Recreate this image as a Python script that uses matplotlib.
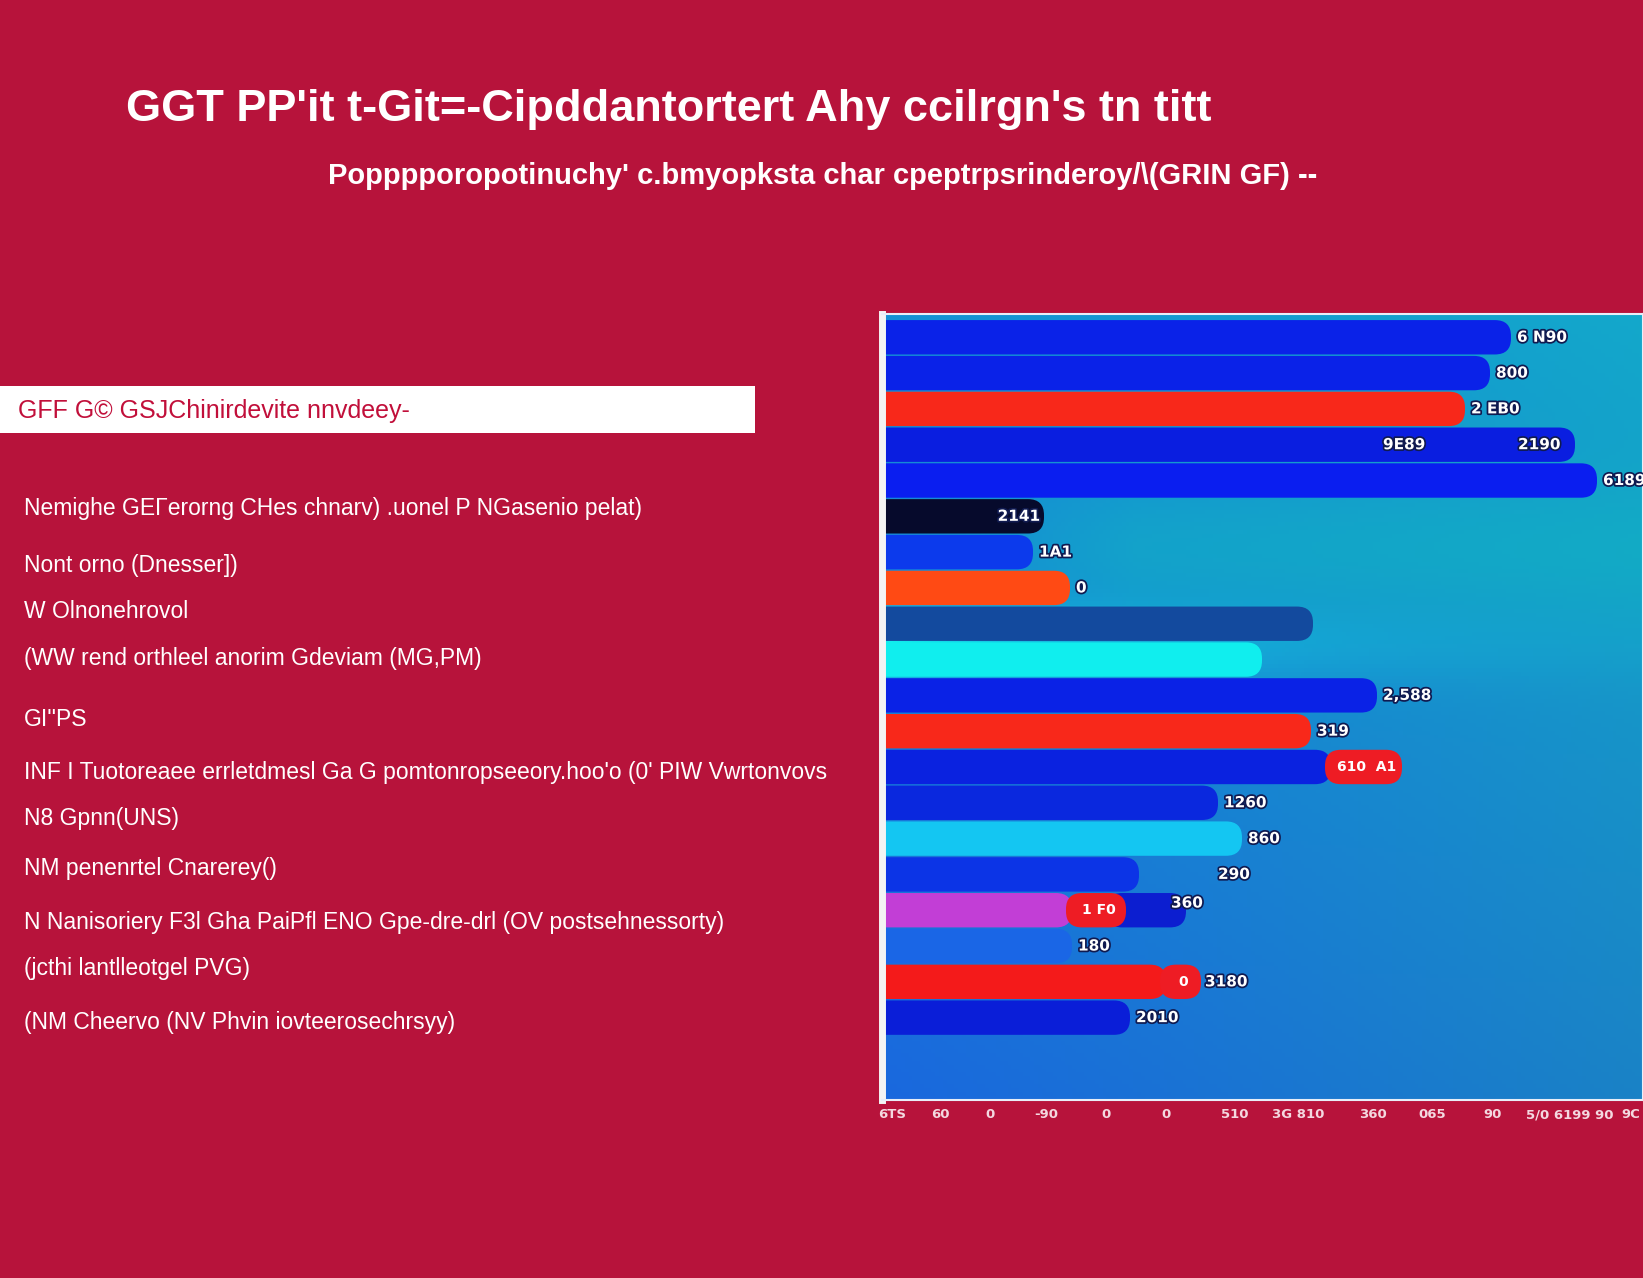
import numpy as np
import matplotlib
matplotlib.use("Agg")
from matplotlib import pyplot as plt
from matplotlib.patches import FancyBboxPatch, Rectangle
from matplotlib.colors import to_rgb
import matplotlib.patheffects as pe

# ---- texts
title = "GGT PP'it t-Git=-Cipddantortert Ahy ccilrgn's tn titt"
subtitle = "Popppporopotinuchy' c.bmyopksta char cpeptrpsrinderoy/\\(GRIN GF) --"
box_text = "GFF G\u00a9 GSJChinirdevite nnvdeey-"
left_labels = [
    "Nemighe GE\u0393erorng CHes chnarv) .uonel P NGasenio pelat)",
    "Nont orno (Dnesser])",
    "W Olnonehrovol",
    "(WW rend orthleel anorim Gdeviam (MG,PM)",
    "GI''PS",
    "INF I Tuotoreaee errletdmesl Ga G pomtonropseeory.hoo'o (0' PIW Vwrtonvovs",
    "N8 Gpnn(UNS)",
    "NM penenrtel Cnarerey()",
    "N Nanisoriery F3l Gha PaiPfl ENO Gpe-dre-drl (OV postsehnessorty)",
    "(jcthi lantlleotgel PVG)",
    "(NM Cheervo (NV Phvin iovteerosechrsyy)",
]
left_label_y = [509, 566, 612, 659, 719, 772, 818, 869, 922, 968, 1022]  # pixel rows

# ---- bars (top to bottom)
bar_values = [629, 608, 583, 693, 715, 162, 151, 188, 431, 380,
              495, 429, 449, 336, 360, 257, 190, 190, 284, 248]
bar_colors = ["#0a22e8", "#0a22e8", "#f8281a", "#0a1ee0", "#0a1ef0",
              "#060a2c", "#0c3aec", "#ff4a14", "#134a9e", "#10eeee",
              "#0a22e6", "#f8281a", "#0a22e0", "#0a28de", "#14c6f2",
              "#0c34e6", "#c23ed6", "#1a66e6", "#f41a1a", "#0a1ed8"]
bar_labels = ["6 N90", "800", "2 EB0", "2190", "6189", "2141", "1A1", "0", "", "",
              "2,588", "319", "", "1260", "860", "290", "360", "180", "3180", "2010"]
# red badges: (row, start, end, text)
badges = [(12, 449, 520, "610  A1"), (16, 190, 244, "1 F0"), (18, 284, 319, "0")]
# dark extension behind badge on row 16
extensions = [(16, 244, 304, "#0c1ed0")]

tick_pos = [10, 58, 108, 164, 224, 284, 353, 416, 491, 550, 611, 688, 749]
tick_labels = ["6TS", "60", "0", "-90", "0", "0", "510", "3G 810", "360",
               "065", "90", "5/0 6199 90", "9C"]

W, H = 1643, 1278
bg = "#b7133b"
fig = plt.figure(figsize=(W / 100, H / 100), dpi=100, facecolor=bg)
fam = ["Liberation Sans Narrow", "Liberation Sans", "DejaVu Sans"]

def fy(py):
    return 1 - py / H

fig.text(126 / W, fy(110), title, color="white", fontsize=32.5, fontweight="bold",
         family=fam, va="center", ha="left")
fig.text(328 / W, fy(176), subtitle, color="white", fontsize=21, fontweight="bold",
         family=fam, va="center", ha="left")

# white box
fig.patches.append(Rectangle((0, fy(433)), 755 / W, 47 / H, transform=fig.transFigure,
                             facecolor="white", edgecolor="none"))
fig.text(18 / W, fy(411), box_text, color="#c10f3a", fontsize=18,
         family=fam, va="center", ha="left")

for t, py in zip(left_labels, left_label_y):
    fig.text(24 / W, fy(py), t, color="white", fontsize=16.5, family=fam,
             va="center", ha="left")

# ---- chart panel
x0, x1, y_top, y_bot = 882, 1643, 314, 1100
ax = fig.add_axes([x0 / W, fy(y_bot), (x1 - x0) / W, (y_bot - y_top) / H])
ax.set_xlim(0, x1 - x0)
ax.set_ylim(21.3, -0.65)

# gradient background
gh, gw = 200, 200
xx, yy = np.meshgrid(np.linspace(0, 1, gw), np.linspace(0, 1, gh))
tl, tr = np.array(to_rgb("#1590d6")), np.array(to_rgb("#13a8cb"))
bl, br = np.array(to_rgb("#1a68de")), np.array(to_rgb("#1a82c6"))
img = ((1 - xx)[..., None] * (1 - yy)[..., None] * tl + xx[..., None] * (1 - yy)[..., None] * tr
       + (1 - xx)[..., None] * yy[..., None] * bl + xx[..., None] * yy[..., None] * br)
band = np.exp(-((yy - 0.42) / 0.05) ** 2) * np.exp(-xx / 0.35)
img = img * (1 - band[..., None]) + band[..., None] * np.array(to_rgb("#12f2ee"))
teal = np.exp(-((yy - 0.3) / 0.1) ** 2) * np.clip(xx * 3, 0, 1)
img = img * (1 - 0.5 * teal[..., None]) + 0.5 * teal[..., None] * np.array(to_rgb("#10b8c2"))
ax.imshow(np.clip(img, 0, 1), extent=[0, 1, 0, 1], transform=ax.transAxes,
          aspect="auto", zorder=0)

px_per_y = (y_bot - y_top) / (21.3 + 0.65)
asp = 1.0 / px_per_y
bh = 0.96

def pill(x_start, x_end, row, color, z=2):
    p = FancyBboxPatch((x_start, row - bh / 2), x_end - x_start, bh,
                       boxstyle="round,pad=0,rounding_size=16", mutation_aspect=asp,
                       facecolor=color, edgecolor="none", zorder=z)
    ax.add_patch(p)

stroke = [pe.withStroke(linewidth=2.5, foreground="#101a50")]

def label(x, row, t, ha="left"):
    ax.text(x, row, t, color="white", fontsize=11, fontweight="bold", ha=ha,
            va="center", path_effects=stroke, zorder=6)

for i, (v, c) in enumerate(zip(bar_values, bar_colors)):
    pill(-30, v, i, c)

for row, s, e, c in extensions:
    pill(s - 20, e, row, c, z=1.5)

for row, s, e, t in badges:
    pill(s - 6, e, row, "#ee1c24", z=3)
    ax.text((s + e) / 2, row, t, color="white", fontsize=10, fontweight="bold",
            ha="center", va="center", zorder=6)

for i, (v, t) in enumerate(zip(bar_values, bar_labels)):
    if not t:
        continue
    if i == 3:
        label(636, i, t)
        label(501, i, "9E89")
    elif i == 5:
        label(v - 4, i, t, ha="right")
    elif i == 15:
        label(336, i, t)
    elif i == 16:
        label(289, i - 0.2, t)
    elif i == 18:
        label(323, i, t)
    else:
        label(v + 6, i, t)

ax.set_xticks(tick_pos)
ax.set_xticklabels(tick_labels, color="#f4d8e0", fontsize=9.5, fontweight="bold")
ax.tick_params(axis="x", length=0, pad=6)
ax.set_yticks([])
for s in ["right", "bottom", "top"]:
    ax.spines[s].set_color("#e8eef8")
    ax.spines[s].set_linewidth(1.5)
ax.spines["left"].set_color("#f4f4f4")
ax.spines["left"].set_linewidth(5)

fig.savefig("out.png", dpi=100, facecolor=bg)
